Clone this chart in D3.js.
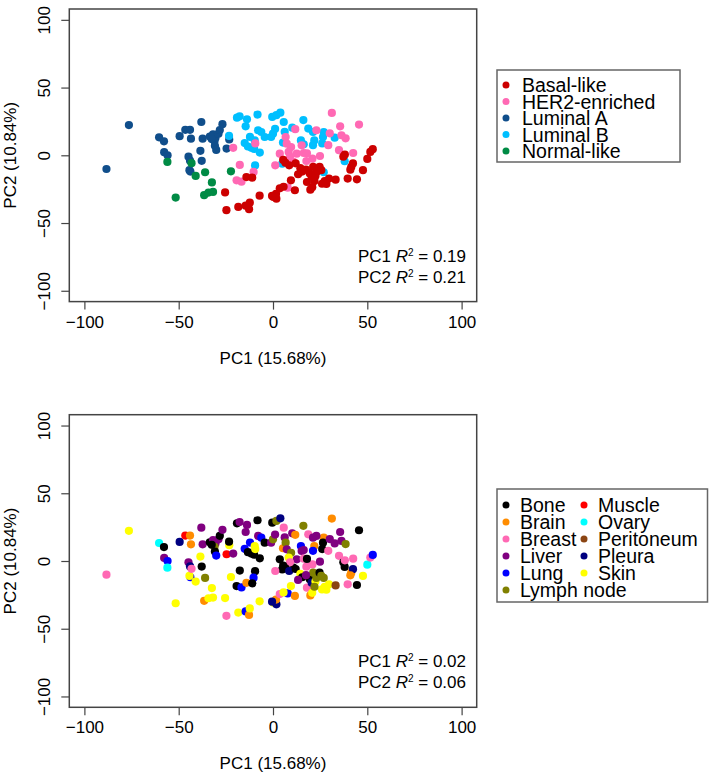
<!DOCTYPE html>
<html>
<head>
<meta charset="utf-8">
<script src="https://cdn.jsdelivr.net/npm/d3@7"></script>
<style>
  body { margin: 0; background: #fff; }
  text { font-family: "Liberation Sans", Arial, sans-serif; fill: #000; }
  .box { fill: none; stroke: #444; stroke-width: 1.5; }
  .axis path { display: none; }
  .axis line { stroke: #444; stroke-width: 1.2; }
  .axis text { font-size: 17px; font-family: "Liberation Sans", Arial, sans-serif; }
</style>
</head>
<body>
<div id="chart"></div>
<script>
// PCA scatter, coloured by subtype (top) and by metastasis site (bottom)

var subtypes = ["Basal-like", "HER2-enriched", "Luminal A", "Luminal B", "Normal-like"];
var subtypeColors = ["#CC0000", "#FF69B4", "#104E8B", "#00BFFF", "#008B45"];

var sites = ["Bone", "Brain", "Breast", "Liver", "Lung", "Lymph node", "Muscle", "Ovary", "Peritoneum", "Pleura", "Skin"];
var siteColors = ["#000000", "#FF8C00", "#FF69B4", "#800080", "#0000FF", "#808000", "#FF0000", "#00FFFF", "#8B4513", "#000080", "#FFFF00"];

var axisTicks = [-100, -50, 0, 50, 100];

// [PC1, PC2, site] for each sample, grouped by subtype
var lumA = [
  [-88.3,-10.1,"Breast"], [-76.4,22.3,"Skin"], [-60.4,13.3,"Ovary"], [-57.8,10.3,"Bone"],
  [-57.7,2.3,"Liver"], [-55.9,0,"Lung"], [-49.5,14.1,"Pleura"], [-46.5,18.8,"Muscle"],
  [-44,18.8,"Brain"], [-43.5,12.3,"Brain"], [-44.8,-1,"Liver"], [-44,-4,"Pleura"],
  [-43.8,-12,"Lung"], [-44.3,-11,"Skin"], [-38,24.6,"Liver"], [-38.5,3.3,"Skin"],
  [-37.8,-4.1,"Bone"], [-37.3,12.3,"Liver"], [-33.5,13.8,"Bone"], [-31.8,15.5,"Liver"],
  [-30.5,13,"Liver"], [-31,10.5,"Lymph node"], [-30.8,7,"Bone"], [-30.1,4,"Lung"],
  [-28.9,16,"Liver"], [-28.2,18.6,"Bone"], [-26.8,23,"Liver"], [-23.2,11.7,"Skin"],
  [-24.6,5,"Muscle"], [-32.5,12,"Bone"]
];

var normal = [
  [-56,-4.9,"Ovary"], [-43.2,-5.8,"Breast"], [-41,-15.2,"Skin"], [-36,-12.5,"Lymph node"],
  [-32.4,-20,"Skin"], [-36.5,-29.4,"Brain"], [-34.2,-27.5,"Skin"], [-31.8,-27,"Skin"],
  [-51.6,-31.2,"Skin"], [-22.3,-11.8,"Skin"]
];

var lumB = [
  [-23.3,14.3,"Bone"], [-19.1,27.8,"Bone"], [-17.7,28.8,"Liver"], [-13.8,26.6,"Liver"],
  [-14.5,21.4,"Liver"], [-8.2,30.1,"Bone"], [-12.2,13.6,"Lung"], [-9.7,11,"Skin"],
  [-15,9,"Lung"], [-13.3,6.5,"Bone"], [-11.5,5.5,"Bone"], [-10,4.7,"Bone"],
  [-7,2,"Bone"], [-9.5,-7.5,"Bone"], [-7.9,18.5,"Liver"], [-6.2,17.2,"Lung"],
  [-4.4,13.5,"Bone"], [-1,13.5,"Liver"], [0,16,"Lymph node"], [1.1,19.5,"Liver"],
  [-0.4,28.3,"Bone"], [1.8,29.6,"Lymph node"], [3.9,31.5,"Pleura"], [5.7,24.6,"Breast"],
  [6.2,17.4,"Liver"], [5.3,9.4,"Brain"], [10.2,20.4,"Liver"], [16.1,26,"Lymph node"],
  [14.8,11,"Lung"], [16.3,8.1,"Liver"], [18.7,19.7,"Breast"], [21.2,17.2,"Liver"],
  [21.9,11,"Brain"], [21.2,7.5,"Lung"], [26.9,17.2,"Brain"], [26.5,13.5,"Bone"],
  [26.1,8.8,"Bone"], [32.7,13,"Liver"], [38,-4.4,"Bone"], [26.9,-12.5,"Lymph node"],
  [4.9,-6.2,"Bone"]
];

var her2 = [
  [-21.1,5.5,"Liver"], [-17.6,-7.1,"Bone"], [-9.4,8.8,"Skin"], [-10.3,-12.3,"Lung"],
  [-19.3,-18.5,"Bone"], [-16.7,-19.5,"Lung"], [6.7,13.5,"Lymph node"], [11.8,19.3,"Brain"],
  [3.6,1.2,"Bone"], [1.2,-7.4,"Breast"], [7.3,8.6,"Liver"], [9.6,6.1,"Lymph node"],
  [8.3,2.5,"Skin"], [10.8,-4.9,"Bone"], [12.6,1.2,"Liver"], [15.2,7.4,"Liver"],
  [16.3,1.7,"Breast"], [17.7,-4.2,"Breast"], [20.9,-2.5,"Breast"], [24.9,-0.5,"Liver"],
  [23,18.5,"Liver"], [29.3,7.5,"Breast"], [30.1,16.2,"Liver"], [31.2,31.3,"Brain"],
  [35.6,21.4,"Liver"], [36.3,14.8,"Liver"], [38.5,12.5,"Lymph node"], [35,3.8,"Breast"],
  [42.5,1.7,"Breast"], [45.6,22.7,"Bone"], [7.8,-23.9,"Lung"], [18,1.5,"Bone"],
  [9,-1,"Breast"]
];

var basal = [
  [-24.7,-40.5,"Breast"], [-25.4,-27.4,"Skin"], [-18.4,-38.1,"Skin"], [-14.5,-37.2,"Lung"],
  [-12.7,-39.8,"Brain"], [-12.3,-35,"Skin"], [-14.1,-16.1,"Brain"], [-11,-16.5,"Bone"],
  [-7.1,-29.8,"Skin"], [0.2,-30.8,"Skin"], [1.8,-32,"Pleura"], [1.6,-28.5,"Brain"],
  [3.6,-24.4,"Breast"], [5.6,-23.2,"Skin"], [9.5,-18.5,"Skin"], [11.6,-25.8,"Brain"],
  [5.4,-3.4,"Bone"], [6.6,-5.5,"Bone"], [8.6,-7.4,"Pleura"], [12,-5.9,"Bone"],
  [14.5,-9.5,"Skin"], [15.5,-12,"Bone"], [13.3,-14,"Liver"], [18,-19.7,"Breast"],
  [19.5,-13.5,"Bone"], [20.5,-16,"Pleura"], [19.8,-25.4,"Brain"], [20.8,-23.5,"Skin"],
  [21.3,-8.6,"Lymph node"], [22.5,-15.2,"Skin"], [23,-12.5,"Lymph node"], [24.7,-8.6,"Bone"],
  [25.6,-11,"Lymph node"], [27.4,-19,"Skin"], [29.7,-17.2,"Skin"], [26,-21,"Skin"],
  [28.3,-21.2,"Skin"], [33.2,-18,"Peritoneum"], [37.3,-1,"Bone"], [38.1,0.5,"Breast"],
  [39.6,-17.2,"Breast"], [41.5,-8.6,"Brain"], [42.4,-6,"Pleura"], [41,-10.6,"Brain"],
  [44.5,-17.7,"Bone"], [47.7,-11,"Skin"], [50,-2.7,"Ovary"], [51.6,2.5,"Breast"],
  [52.9,4.5,"Lung"], [17.5,-10.5,"Liver"], [22,-19,"Lymph node"], [-0.5,-30,"Pleura"]
];

var r2Top = ["0.19", "0.21"];
var r2Bottom = ["0.02", "0.06"];

// flatten, in drawing order
var groups = [["Luminal A", lumA], ["Normal-like", normal], ["Luminal B", lumB], ["HER2-enriched", her2], ["Basal-like", basal]];
var samples = [];
groups.forEach(function(g){
  g[1].forEach(function(p){ samples.push({pc1: p[0], pc2: p[1], subtype: g[0], site: p[2]}); });
});

var subtypeColor = d3.scaleOrdinal().domain(subtypes).range(subtypeColors);
var siteColor = d3.scaleOrdinal().domain(sites).range(siteColors);

var svg = d3.select("#chart").append("svg")
  .attr("width", 709).attr("height", 778);

var x = d3.scaleLinear().domain([-108, 108]).range([69.3, 476.7]);

function panel(top, colorFn, r2) {
  var y = d3.scaleLinear().domain([-108, 108]).range([top + 292.6, top]);
  var g = svg.append("g");

  g.append("g").attr("class", "axis")
    .attr("transform", "translate(0," + (top + 292.6) + ")")
    .call(d3.axisBottom(x).tickValues(axisTicks).tickSize(8).tickPadding(6));

  var ya = g.append("g").attr("class", "axis")
    .attr("transform", "translate(69.3,0)")
    .call(d3.axisLeft(y).tickValues(axisTicks).tickSize(8));
  ya.selectAll(".tick text")
    .attr("x", null).attr("dy", null)
    .attr("text-anchor", "middle")
    .attr("transform", "translate(-19,0) rotate(-90)");

  g.selectAll("circle").data(samples).enter().append("circle")
    .attr("cx", function(d){ return x(d.pc1); })
    .attr("cy", function(d){ return y(d.pc2); })
    .attr("r", 4.1)
    .attr("fill", colorFn);

  g.append("rect").attr("class", "box")
    .attr("x", 69.3).attr("y", top)
    .attr("width", 407.4).attr("height", 292.6);

  // axis titles, centred on the plot region
  g.append("text")
    .attr("x", 273).attr("y", top + 354.5)
    .attr("text-anchor", "middle")
    .style("font-size", "17px")
    .text("PC1 (15.68%)");
  g.append("text")
    .attr("transform", "translate(16," + (top + 146.3) + ") rotate(-90)")
    .attr("text-anchor", "middle")
    .style("font-size", "17px")
    .text("PC2 (10.84%)");

  // R-squared notes
  ["PC1", "PC2"].forEach(function(pc, i){
    var t = g.append("text")
      .attr("x", 466).attr("y", top + 252.5 + i * 21)
      .attr("text-anchor", "end")
      .style("font-size", "17px");
    t.append("tspan").text(pc + " ");
    t.append("tspan").style("font-style", "italic").text("R");
    t.append("tspan").attr("dy", -6).style("font-size", "10px").text("2");
    t.append("tspan").attr("dy", 6).text(" = " + r2[i]);
  });
  return g;
}

panel(9, function(d){ return subtypeColor(d.subtype); }, r2Top);
panel(414.7, function(d){ return siteColor(d.site); }, r2Bottom);

// legend, top
var leg1 = svg.append("g");
leg1.append("rect").attr("class", "box")
  .attr("x", 497).attr("y", 70).attr("width", 183).attr("height", 92)
  .style("stroke", "#666");
subtypes.forEach(function(s, i){
  var cy = 85 + i * 16.5;
  leg1.append("circle").attr("cx", 506).attr("cy", cy).attr("r", 3.5).attr("fill", subtypeColor(s));
  leg1.append("text").attr("x", 522).attr("y", cy).attr("dy", "0.36em")
    .style("font-size", "19.5px").text(s);
});

// legend, bottom (two columns)
var leg2 = svg.append("g");
leg2.append("rect").attr("class", "box")
  .attr("x", 497).attr("y", 489).attr("width", 210.5).attr("height", 113)
  .style("stroke", "#666");
sites.forEach(function(s, i){
  var col = i < 6 ? 0 : 1, row = i < 6 ? i : i - 6;
  var cy = 505 + row * 17;
  var dx = col === 0 ? 506 : 584;
  leg2.append("circle").attr("cx", dx).attr("cy", cy).attr("r", 3.5).attr("fill", siteColor(s));
  leg2.append("text").attr("x", dx + 14).attr("y", cy).attr("dy", "0.36em")
    .style("font-size", "19.5px").text(s);
});
</script>
</body>
</html>
